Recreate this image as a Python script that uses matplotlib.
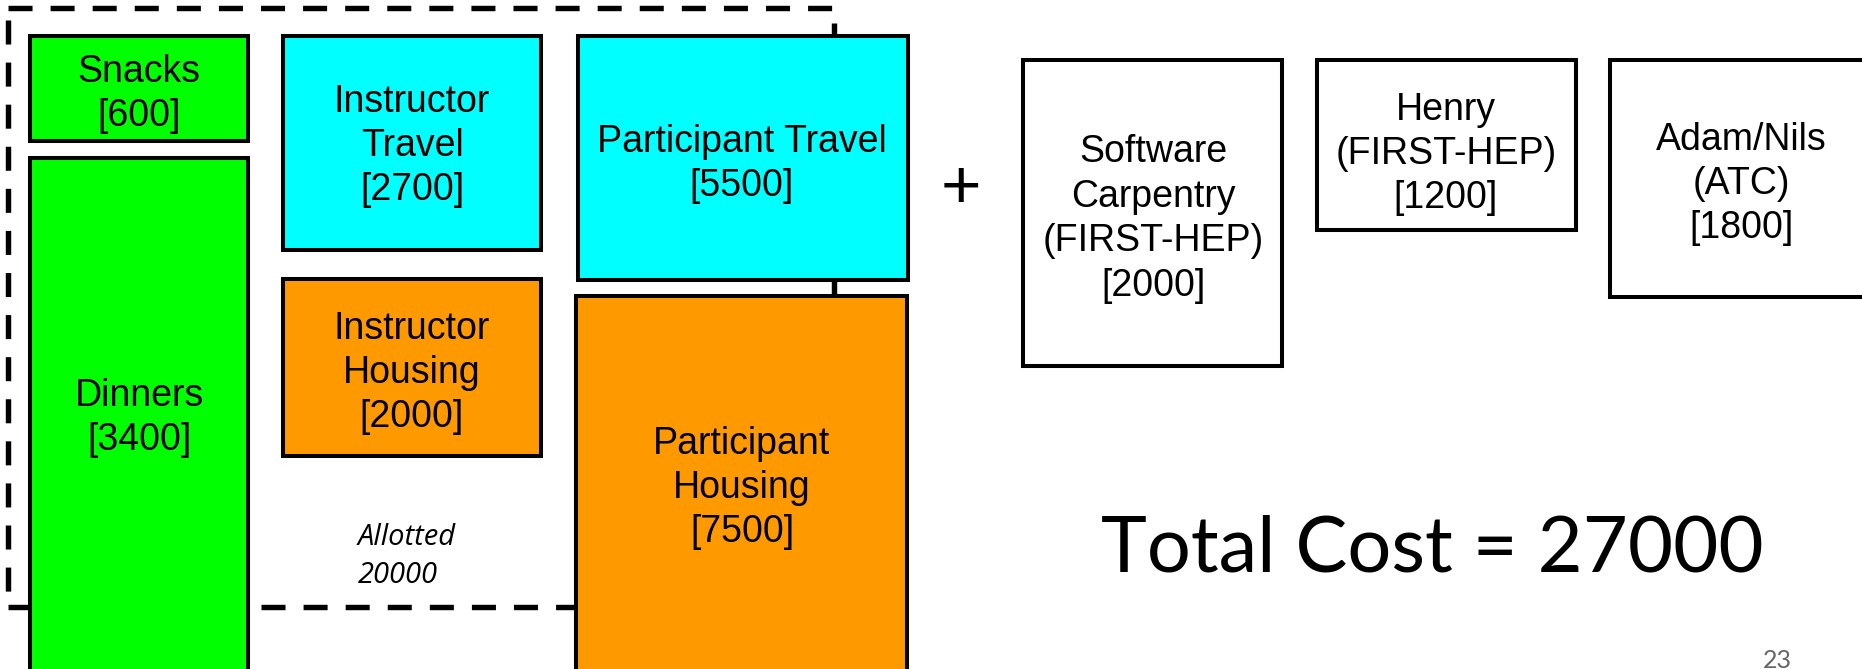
import matplotlib
matplotlib.use("Agg")
import matplotlib.pyplot as plt
from matplotlib.patches import Rectangle

# ---- data ----
names = ["Snacks", "Dinners", "Instructor\nTravel", "Instructor\nHousing",
         "Participant Travel", "Participant\nHousing",
         "Software\nCarpentry\n(FIRST-HEP)", "Henry\n(FIRST-HEP)", "Adam/Nils\n(ATC)"]
values = [600, 3400, 2700, 2000, 5500, 7500, 2000, 1200, 1800]
groups = ["food", "food", "travel", "housing", "travel", "housing", "staff", "staff", "staff"]
allotted = 20000
total_cost = 27000
page_number = "23"

# ---- layout (pixel coordinates: x0, y0, x1, y1) ----
boxes = [(30, 36, 248, 141), (30, 158, 248, 690), (283, 36, 541, 250), (283, 279, 541, 456),
         (578, 36, 908, 280), (576, 296, 907, 690),
         (1023, 60, 1282, 366), (1317, 60, 1576, 230), (1610, 60, 1900, 297)]
text_centers = [(139, 94), (139, 418), (412, 146), (412, 373), (742, 164), (742, 488),
                (1153, 219), (1446, 154), (1741, 184)]
colors = {"food": "#00FF00", "travel": "#00FFFF", "housing": "#FF9900", "staff": "#FFFFFF"}

W, H = 1862, 669
plt.rcParams['lines.scale_dashes'] = False
fig = plt.figure(figsize=(W / 100, H / 100), dpi=100)
ax = fig.add_axes([0, 0, 1, 1])
ax.set_xlim(0, W)
ax.set_ylim(H, 0)
ax.axis("off")

# dashed "allotted" frame
dash = (0, (17.3, 13))
lw_d = 3.9
ax.plot([8, 834], [7.5, 7.5], color="black", lw=lw_d, linestyle=dash, solid_capstyle="butt", zorder=1)
ax.plot([8, 8], [20, 607], color="black", lw=lw_d, linestyle=dash, solid_capstyle="butt", zorder=1)
ax.plot([834, 834], [23, 607], color="black", lw=lw_d, solid_capstyle="butt", zorder=1)
ax.plot([8, 31], [607, 607], color="black", lw=lw_d, solid_capstyle="butt", zorder=1)
ax.plot([261, 577], [607, 607], color="black", lw=lw_d, linestyle=dash, solid_capstyle="butt", zorder=1)

for (x0, y0, x1, y1), g in zip(boxes, groups):
    ax.add_patch(Rectangle((x0, y0), x1 - x0, y1 - y0, facecolor=colors[g],
                           edgecolor="black", lw=2.9, joinstyle="miter", zorder=2))

for n, v, (cx, cy) in zip(names, values, text_centers):
    ax.text(cx, cy, f"{n}\n[{v}]", ha="center", va="center", fontsize=27,
            family="Liberation Sans", linespacing=1.3, zorder=3)

ax.text(961, 183, "+", ha="center", va="center_baseline", fontsize=50,
        family="Liberation Sans", zorder=3)

ax.text(358, 545, "Allotted", ha="left", va="baseline", fontsize=21, family="Open Sans",
        style="italic", zorder=3)
ax.text(358, 583, f"{allotted}", ha="left", va="baseline", fontsize=21, family="Open Sans",
        style="italic", zorder=3)

ax.text(1432, 571, f"Total Cost = {total_cost}", ha="center", va="baseline", fontsize=56,
        family="Lato", zorder=3)

ax.text(1777, 668, page_number, ha="center", va="baseline", fontsize=18, family="Lato",
        color="#666666", zorder=3)

fig.savefig("out.png", dpi=100)
